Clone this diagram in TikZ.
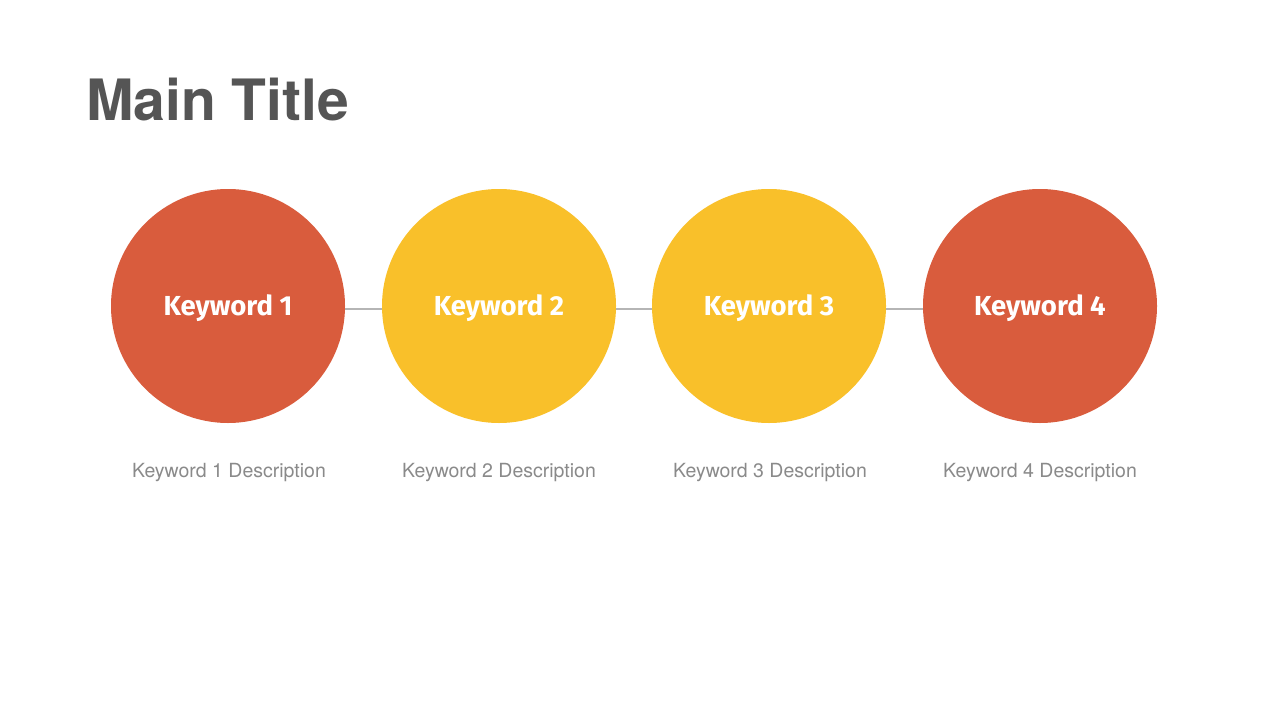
\documentclass[tikz,border=0pt]{standalone}
\usepackage{fontspec}
\setmainfont{TeX Gyre Heros}
\newfontfamily\kwfont{Fira Sans}
\definecolor{kred}{HTML}{D95C3D}
\definecolor{kyel}{HTML}{F9C02A}
\definecolor{ttl}{HTML}{555555}
\definecolor{dsc}{HTML}{8A8A8A}
\definecolor{lnk}{HTML}{B5B5B5}
\begin{document}
\begin{tikzpicture}[x=1pt,y=-1pt,
  kw/.style={circle,minimum size=234pt,inner sep=0pt,fill=#1},
  kwtext/.style={text=white,font=\kwfont\fontsize{27.5}{30}\selectfont\bfseries,anchor=base,inner sep=0pt},
  desc/.style={text=dsc,font=\fontsize{19.5}{24}\selectfont,anchor=base},
  link/.style={draw=lnk,line width=1.5pt}]
\fill[white] (0,0) rectangle (1280,720);
\useasboundingbox (0,0) rectangle (1280,720);
\node[anchor=base west,text=ttl,font=\fontsize{57}{70}\selectfont\bfseries,inner sep=0pt] (title) at (86,120) {Main Title};
\coordinate (l1) at (228,309);
\coordinate (l4) at (1040,309);
\draw[link] (l1) -- (l4);
\node[kw=kred] (k1) at (228,306) {};
\node[kw=kyel] (k2) at (499,306) {};
\node[kw=kyel] (k3) at (769,306) {};
\node[kw=kred] (k4) at (1040,306) {};
\node[kwtext] (t1) at ([yshift=-9pt]k1.center) {Keyword 1};
\node[kwtext] (t2) at ([yshift=-9pt]k2.center) {Keyword 2};
\node[kwtext] (t3) at ([yshift=-9pt]k3.center) {Keyword 3};
\node[kwtext] (t4) at ([yshift=-9pt]k4.center) {Keyword 4};
\node[desc] (d1) at (229,477) {Keyword 1 Description};
\node[desc] (d2) at (499,477) {Keyword 2 Description};
\node[desc] (d3) at (770,477) {Keyword 3 Description};
\node[desc] (d4) at (1040,477) {Keyword 4 Description};
\end{tikzpicture}
\end{document}
